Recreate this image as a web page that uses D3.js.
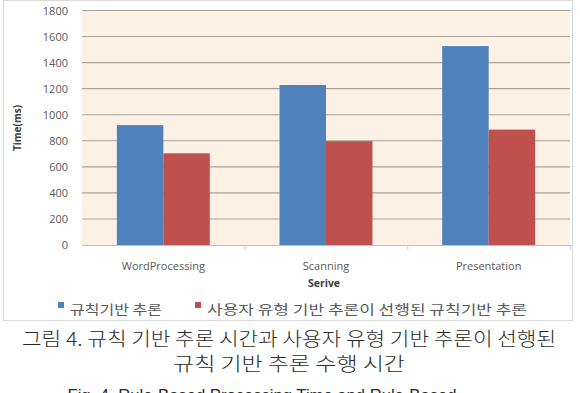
<!DOCTYPE html>
<html>
<head>
<meta charset="utf-8">
<script src="https://cdn.jsdelivr.net/npm/d3@7"></script>
<style>
  body { margin: 0; background: #fff; }
  svg { display: block; }
</style>
</head>
<body>
<div id="chart"></div>
<script>
const categories = ["WordProcessing", "Scanning", "Presentation"];
const seriesNames = ["규칙기반 추론", "사용자 유형 기반 추론이 선행된 규칙기반 추론"];
const ruleBased = [920, 1228, 1527];
const userTypeFirst = [704, 797, 886];
const yTicks = [0, 200, 400, 600, 800, 1000, 1200, 1400, 1600, 1800];
const captionLines = ["그림 4. 규칙 기반 추론 시간과 사용자 유형 기반 추론이 선행된", "규칙 기반 추론 수행 시간"];
const figLine = "Fig. 4. Rule-Based Processing Time and Rule-Based";

const colors = ["#4f81bd", "#c0504d"];

const svg = d3.select("#chart").append("svg")
  .attr("width", 580)
  .attr("height", 393);

// outer chart frame
svg.append("rect")
  .attr("x", 3.5).attr("y", 0.5)
  .attr("width", 569).attr("height", 320)
  .attr("fill", "#fff")
  .attr("stroke", "#d9d9d9");

const plot = { left: 82, right: 570, top: 10.5, bottom: 245 };

const x0 = d3.scaleBand()
  .domain(categories)
  .range([plot.left, plot.right]);

// two bars per group, about 35px empty on each side
const x1 = d3.scaleBand()
  .domain([0, 1])
  .range([0, x0.bandwidth()])
  .paddingOuter(0.75)
  .paddingInner(0);

const y = d3.scaleLinear()
  .domain([0, 1800])
  .range([plot.bottom, plot.top]);

svg.append("rect")
  .attr("x", plot.left).attr("y", plot.top)
  .attr("width", plot.right - plot.left).attr("height", plot.bottom - plot.top)
  .attr("fill", "#fcf1e4");

// gridlines
svg.append("g")
  .selectAll("line")
  .data(yTicks.filter(d => d > 0))
  .join("line")
  .attr("x1", plot.left).attr("x2", plot.right)
  .attr("y1", d => y(d)).attr("y2", d => y(d))
  .attr("stroke", "#aaa29a")
  .attr("stroke-width", 1.1);

// y axis labels
const yAxis = d3.axisLeft(y).tickValues(yTicks).tickFormat(d3.format("d")).tickSize(0).tickPadding(14);
const gy = svg.append("g")
  .attr("transform", `translate(${plot.left},0)`)
  .call(yAxis);
gy.select(".domain").remove();
gy.selectAll("text")
  .attr("font-family", "'Open Sans', sans-serif")
  .attr("font-size", 11)
  .attr("fill", "#595959");

// bars
const groups = svg.append("g")
  .selectAll("g")
  .data(categories)
  .join("g")
  .attr("transform", d => `translate(${x0(d)},0)`);

groups.selectAll("rect")
  .data((d, i) => [ruleBased[i], userTypeFirst[i]])
  .join("rect")
  .attr("x", (d, j) => x1(j))
  .attr("width", x1.bandwidth())
  .attr("y", d => y(d))
  .attr("height", d => y(0) - y(d))
  .attr("fill", (d, j) => colors[j]);

// x axis
const xAxis = d3.axisBottom(x0).tickSize(0).tickPadding(17);
const gx = svg.append("g")
  .attr("transform", `translate(0,${plot.bottom})`)
  .call(xAxis);
gx.select(".domain")
  .attr("stroke", "#bfbfbf")
  .attr("d", `M${plot.left},0.5H${plot.right + 2}`);
gx.selectAll("text")
  .attr("font-family", "'Open Sans', sans-serif")
  .attr("font-size", 11)
  .attr("fill", "#595959");
// category separator ticks
svg.append("g")
  .selectAll("line")
  .data(categories)
  .join("line")
  .attr("x1", d => x0(d) + x0.bandwidth() + 0.5)
  .attr("x2", d => x0(d) + x0.bandwidth() + 0.5)
  .attr("y1", plot.bottom)
  .attr("y2", plot.bottom + 5)
  .attr("stroke", "#d0d0d0");

// axis titles
svg.append("text")
  .attr("x", (plot.left + plot.right) / 2 - 2)
  .attr("y", 287)
  .attr("text-anchor", "middle")
  .attr("font-family", "'Open Sans', sans-serif")
  .attr("font-weight", "bold")
  .attr("font-size", 10.5)
  .attr("fill", "#404040")
  .text("Serive");

svg.append("text")
  .attr("transform", "translate(21,128) rotate(-90)")
  .attr("text-anchor", "middle")
  .attr("font-family", "'Open Sans', sans-serif")
  .attr("font-weight", "bold")
  .attr("font-size", 10)
  .attr("fill", "#404040")
  .text("Time(ms)");

// legend
const legendX = [58, 195];
const legendLen = [92, 320];
const legend = svg.append("g")
  .selectAll("g")
  .data(seriesNames)
  .join("g")
  .attr("transform", (d, i) => `translate(${legendX[i]},312)`);
legend.append("rect")
  .attr("x", 0).attr("y", -10)
  .attr("width", 6).attr("height", 6)
  .attr("fill", (d, i) => colors[i]);
legend.append("text")
  .attr("x", 12).attr("y", 2)
  .attr("font-family", "'Noto Sans CJK KR', sans-serif")
  .attr("font-size", 13)
  .attr("fill", "#595959")
  .attr("textLength", (d, i) => legendLen[i])
  .attr("lengthAdjust", "spacingAndGlyphs")
  .text(d => d);

// caption
const capY = [346, 371];
const capLen = [534, 232];
svg.append("g")
  .selectAll("text")
  .data(captionLines)
  .join("text")
  .attr("x", 289)
  .attr("y", (d, i) => capY[i])
  .attr("text-anchor", "middle")
  .attr("font-family", "'Noto Sans CJK KR', sans-serif")
  .attr("font-weight", 300)
  .attr("font-size", 19)
  .attr("fill", "#2a2a2a")
  .attr("textLength", (d, i) => capLen[i])
  .attr("lengthAdjust", "spacingAndGlyphs")
  .text(d => d);

svg.append("text")
  .attr("x", 262)
  .attr("y", 401)
  .attr("text-anchor", "middle")
  .attr("font-family", "'Liberation Sans', sans-serif")
  .attr("font-size", 16)
  .attr("fill", "#2a2a2a")
  .attr("textLength", 389)
  .attr("lengthAdjust", "spacingAndGlyphs")
  .text(figLine);
</script>
</body>
</html>
